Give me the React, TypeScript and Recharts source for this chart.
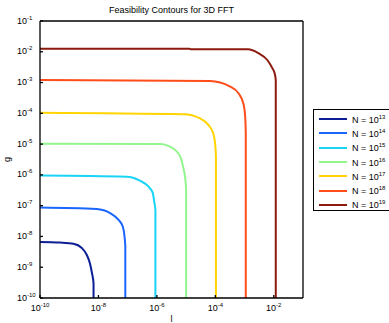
import React from 'react';
import { LineChart, Line, XAxis, YAxis, Label } from 'recharts';

// log-spaced axis ticks
const yDecades = [1e-10, 1e-9, 1e-8, 1e-7, 1e-6, 1e-5, 1e-4, 1e-3, 1e-2, 1e-1];
const xTickValues = [1e-10, 1e-8, 1e-6, 1e-4, 1e-2];
const yMinorTicks = yDecades.flatMap(d => [1, 2, 3, 4, 5, 6, 7, 8, 9].map(k => k * d)).filter(v => v <= 1e-1);

// contour points: l (x) and g (y)
const n13L = [1e-10, 4.8e-10, 1.4e-9, 2.7e-9, 4.0e-9, 5.1e-9, 6.0e-9, 6.8e-9, 6.8e-9];
const n13G = [6.6e-9, 6.3e-9, 5.75e-9, 4.2e-9, 2.5e-9, 1.35e-9, 6.5e-10, 3.0e-10, 1e-10];

const n14L = [1e-10, 8.7e-9, 2.5e-8, 4.8e-8, 6.8e-8, 7.8e-8, 8.3e-8, 8.3e-8];
const n14G = [8.7e-8, 7.8e-8, 5.75e-8, 3.5e-8, 2.1e-8, 1e-8, 4.7e-9, 1e-10];

const n15L = [1e-10, 9.3e-8, 2.6e-7, 5.1e-7, 7.2e-7, 8.1e-7, 8.9e-7, 8.9e-7];
const n15G = [9.5e-7, 8.7e-7, 6.5e-7, 4.2e-7, 2.6e-7, 1.35e-7, 7.2e-8, 1e-10];

const n16L = [1e-10, 1.3e-6, 2.8e-6, 4.8e-6, 6.6e-6, 8.1e-6, 9.3e-6, 1e-5, 1e-5];
const n16G = [1.02e-5, 1.0e-5, 8.3e-6, 5.75e-6, 3.5e-6, 1.66e-6, 7.9e-7, 3.2e-7, 1e-10];

const n17L = [1e-10, 8.1e-6, 3.0e-5, 5.75e-5, 8.5e-5, 9.8e-5, 1.05e-4, 1.05e-4];
const n17G = [1.05e-4, 9.3e-5, 6.9e-5, 4.2e-5, 2.2e-5, 1.07e-5, 3.9e-6, 1e-10];

const n18L = [1e-10, 6.6e-5, 3.2e-4, 6.2e-4, 9.1e-4, 1.05e-3, 1.1e-3, 1.1e-3];
const n18G = [1.2e-3, 1.12e-3, 7.4e-4, 4.5e-4, 2.1e-4, 7.8e-5, 2.2e-5, 1e-10];

const n19L = [1e-10, 1.3e-5, 1.5e-5, 1.3e-3, 2.95e-3, 6.0e-3, 8.9e-3, 1.07e-2, 1.17e-2, 1.17e-2];
const n19G = [1.26e-2, 1.26e-2, 1.2e-2, 1.2e-2, 9.1e-3, 5.4e-3, 2.95e-3, 2.0e-3, 1.2e-3, 1e-10];

const seriesExp = ['13', '14', '15', '16', '17', '18', '19'];
const seriesColors = ['#0c1e96', '#1a66ff', '#1ad4f5', '#93f58d', '#ffd400', '#ff4d1a', '#8c1a0e'];

const toPoints = (ls: number[], gs: number[]) => ls.map((l, i) => ({ l, g: gs[i] }));

const series = [
  toPoints(n13L, n13G),
  toPoints(n14L, n14G),
  toPoints(n15L, n15G),
  toPoints(n16L, n16G),
  toPoints(n17L, n17G),
  toPoints(n18L, n18G),
  toPoints(n19L, n19G),
].map((data, i) => ({ data, exp: seriesExp[i], color: seriesColors[i] }));

const FONT = '"Liberation Sans", Arial, Helvetica, sans-serif';

const expOf = (v: number) => String(Math.round(Math.log10(v)));

const XPowTick = (props: any) => {
  const { x, y, payload } = props;
  return (
    <text x={x} y={y} textAnchor="middle" fontFamily={FONT} fill="#000">
      <tspan fontSize={9}>10</tspan>
      <tspan fontSize={6} dy={-4}>{expOf(payload.value)}</tspan>
    </text>
  );
};

const YPowTick = (props: any) => {
  const { x, y, payload } = props;
  return (
    <text x={x} y={y + 2.5} textAnchor="start" fontFamily={FONT} fill="#000">
      <tspan fontSize={9}>10</tspan>
      <tspan fontSize={6} dy={-4}>{expOf(payload.value)}</tspan>
    </text>
  );
};

const App: React.FC = () => {
  return (
    <div
      style={{
        position: 'absolute',
        left: 0,
        top: 0,
        width: 389,
        height: 323,
        background: '#fff',
        fontFamily: FONT,
        overflow: 'hidden',
      }}
    >
      <div
        style={{
          position: 'absolute',
          left: 40,
          width: 263,
          top: 4,
          textAlign: 'center',
          fontSize: 9,
          lineHeight: '12px',
          color: '#000',
        }}
      >
        Feasibility Contours for 3D FFT
      </div>

      <LineChart width={389} height={323} margin={{ top: 20, right: 85, bottom: 0, left: 0 }}>
        <XAxis
          xAxisId={0}
          dataKey="l"
          type="number"
          scale="log"
          domain={[1e-10, 1e-1]}
          allowDataOverflow
          ticks={xTickValues}
          interval={0}
          height={25}
          tickSize={-3}
          tickMargin={16}
          tick={<XPowTick />}
          stroke="#000"
          strokeWidth={1.3}
        >
          <Label value="l" position="insideBottom" offset={1} fontSize={9} fill="#000" fontFamily={FONT} />
        </XAxis>
        <XAxis
          xAxisId="top"
          orientation="top"
          type="number"
          scale="log"
          domain={[1e-10, 1e-1]}
          allowDataOverflow
          ticks={xTickValues}
          interval={0}
          height={1}
          tickSize={-3}
          tick={false}
          stroke="#000"
          strokeWidth={1.3}
        />
        <YAxis
          yAxisId={0}
          dataKey="g"
          type="number"
          scale="log"
          domain={[1e-10, 1e-1]}
          allowDataOverflow
          ticks={yDecades}
          interval={0}
          width={40}
          tickSize={-3}
          tickMargin={26}
          tick={<YPowTick />}
          stroke="#000"
          strokeWidth={1.3}
        >
          <Label
            value="g"
            angle={-90}
            position="insideLeft"
            offset={7}
            fontSize={9}
            fill="#000"
            fontFamily={FONT}
            style={{ textAnchor: 'middle' }}
          />
        </YAxis>
        <YAxis
          yAxisId="right"
          orientation="right"
          type="number"
          scale="log"
          domain={[1e-10, 1e-1]}
          allowDataOverflow
          ticks={yMinorTicks}
          interval={0}
          width={1}
          tickSize={-2}
          tick={false}
          stroke="#000"
          strokeWidth={1.3}
        />
        {series.map(s => (
          <Line
            key={s.exp}
            data={s.data}
            dataKey="g"
            type="monotone"
            stroke={s.color}
            strokeWidth={2}
            dot={false}
            isAnimationActive={false}
          />
        ))}
      </LineChart>

      <div
        style={{
          position: 'absolute',
          left: 313,
          top: 109,
          width: 80,
          height: 102,
          border: '1px solid #000',
          background: '#fff',
          boxSizing: 'border-box',
          paddingTop: 2,
        }}
      >
        {series.map(s => (
          <div key={s.exp} style={{ display: 'flex', alignItems: 'center', height: 14.3 }}>
            <svg width={34} height={6} style={{ display: 'block' }}>
              <line x1={5} x2={33} y1={3} y2={3} stroke={s.color} strokeWidth={2} />
            </svg>
            <span style={{ fontSize: 9, marginLeft: 4, color: '#000', whiteSpace: 'nowrap' }}>
              N = 10<sup style={{ fontSize: 6, verticalAlign: 4 }}>{s.exp}</sup>
            </span>
          </div>
        ))}
      </div>
    </div>
  );
};

export default App;
